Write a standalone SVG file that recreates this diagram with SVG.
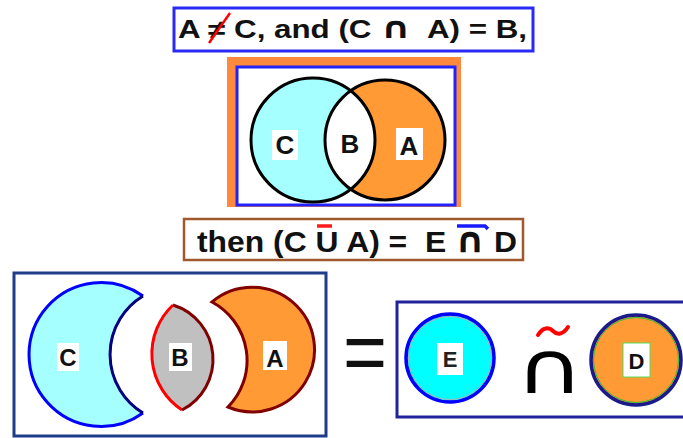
<svg xmlns="http://www.w3.org/2000/svg" width="683" height="438" viewBox="0 0 683 438">
<style>
.t{font-family:"Liberation Sans",Arial,sans-serif;font-weight:bold;fill:#111;white-space:pre}
.lbl{font-family:"Liberation Sans",Arial,sans-serif;font-weight:bold;fill:#111;text-anchor:middle}
.dj{font-family:"DejaVu Sans",sans-serif;font-weight:bold}
.bg{fill:#fff}
.ol{fill:none;stroke:#000;stroke-width:3}
</style>
<rect width="683" height="438" fill="#fff"/>

<g id="title">
<rect x="174" y="8" width="359" height="43" fill="#fff" stroke="#2a2af5" stroke-width="3"/>
<text class="t" x="178" y="38" font-size="25" textLength="349" lengthAdjust="spacingAndGlyphs">A ≠ C, and (C <tspan class="dj" font-size="30">∩</tspan>  A) = B,</text>
<line x1="209" y1="43" x2="230" y2="13" stroke="#ff0000" stroke-width="2.5"/>
</g>

<g id="venn-top">
<rect x="227" y="57" width="234" height="150" fill="#ff8a3d"/>
<rect x="237" y="67" width="218" height="138" fill="#fff" stroke="#2222ff" stroke-width="3"/>
<circle cx="313" cy="140" r="62" fill="#a6ffff"/>
<circle cx="385" cy="140" r="60" fill="#ff9a35"/>
<path d="M350.7,90.8 A62,62 0 0 1 350.7,189.2 A60,60 0 0 1 350.7,90.8 Z" fill="#fff"/>
<circle class="ol" cx="313" cy="140" r="62"/>
<circle class="ol" cx="385" cy="140" r="60"/>
<g id="top-C"><rect class="bg" x="272" y="130" width="26" height="30"/><text class="lbl" x="285" y="154" font-size="26">C</text></g>
<g id="top-B"><text class="lbl" x="350" y="153" font-size="26">B</text></g>
<g id="top-A"><rect class="bg" x="396" y="128" width="27" height="32"/><text class="lbl" x="409" y="155" font-size="26">A</text></g>
</g>

<g id="statement">
<rect x="184" y="219" width="339" height="41" fill="#fff" stroke="#a0592d" stroke-width="2.5"/>
<text class="t" x="197" y="252" font-size="30" textLength="320" lengthAdjust="spacingAndGlyphs">then (C U A) =  E <tspan class="dj" font-size="35">∩</tspan> D</text>
<line x1="317" y1="226" x2="332" y2="226" stroke="#ff1a1a" stroke-width="3.5"/>
<path d="M457,226 L485,226 L488,229" stroke="#1a1aff" stroke-width="3.5" fill="none"/>
</g>

<g id="left-box">
<rect x="14" y="273" width="312" height="163" fill="#fff" stroke="#1f3c88" stroke-width="3"/>
<g id="crescent-C">
<path d="M143,296 A72,72 0 1 0 143,413 A68.4,68.4 0 0 1 143,296 Z" fill="#a6ffff"/>
<path d="M143,296 A72,72 0 1 0 143,413" fill="none" stroke="#0000ff" stroke-width="3"/>
<path d="M143,413 A68.4,68.4 0 0 1 143,296" fill="none" stroke="#000080" stroke-width="3"/>
<rect class="bg" x="57" y="343" width="22" height="28"/><text class="lbl" x="68" y="366" font-size="24">C</text>
</g>
<g id="lens-B">
<path d="M173,305 A67.2,67.2 0 0 0 182,410 A56.9,56.9 0 0 0 173,305 Z" fill="#c0c0c0"/>
<path d="M173,305 A67.2,67.2 0 0 0 182,410" fill="none" stroke="#ff0000" stroke-width="3"/>
<path d="M182,410 A56.9,56.9 0 0 0 173,305" fill="none" stroke="#800000" stroke-width="3"/>
<rect class="bg" x="169" y="343" width="23" height="28"/><text class="lbl" x="180" y="366" font-size="24">B</text>
</g>
<g id="crescent-A">
<path d="M212,302 A62.3,62.3 0 1 1 228,407 A66.3,66.3 0 0 0 212,302 Z" fill="#ff9a35" stroke="#800000" stroke-width="3"/>
<rect class="bg" x="263" y="341" width="24" height="29"/><text class="lbl" x="275" y="367" font-size="24">A</text>
</g>
</g>

<g id="equals"><text class="t" x="343" y="382" font-size="88" textLength="44" lengthAdjust="spacingAndGlyphs" style="font-weight:normal">=</text></g>

<g id="right-box">
<rect x="397" y="302" width="300" height="115" fill="#fff" stroke="#22229a" stroke-width="3"/>
<g id="circle-E">
<circle cx="450" cy="358" r="44" fill="#00ffff" stroke="#0000ff" stroke-width="3.5"/>
<circle cx="450" cy="358" r="41.5" fill="none" stroke="#b0b0b0" stroke-width="1"/>
<rect class="bg" x="437" y="343" width="26" height="32"/><text class="lbl" x="450" y="367" font-size="22" style="fill:#222">E</text>
</g>
<g id="op">
<text class="lbl" font-size="72" transform="translate(550,393) scale(1.3,1)" x="0" y="0" style="font-family:'DejaVu Sans',sans-serif;font-weight:normal;fill:#000">∩</text>
<path d="M538,335 C543,327 549,327 553,331 C557,335 563,335 568,327" fill="none" stroke="#ff0000" stroke-width="4" stroke-linecap="round"/>
</g>
<g id="circle-D">
<circle cx="636" cy="360" r="45" fill="#ff9a35" stroke="#1a1a8a" stroke-width="3.5"/>
<circle cx="636" cy="360" r="42.5" fill="none" stroke="#33bb33" stroke-width="1"/>
<rect x="623" y="343" width="27" height="34" fill="#fff" stroke="#55dd55" stroke-width="1"/><text class="lbl" x="636.5" y="369" font-size="22">D</text>
</g>
</g>
</svg>
